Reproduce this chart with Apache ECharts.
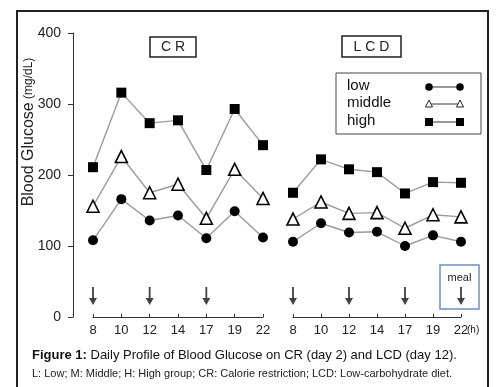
<!DOCTYPE html>
<html><head><meta charset="utf-8">
<script src="https://cdn.jsdelivr.net/npm/echarts@6/dist/echarts.min.js"></script>
<style>html,body{margin:0;padding:0;background:#fff}#c{width:499px;height:387px}</style>
</head><body><div id="c"></div>
<script>
const hours = ['8','10','12','14','17','19','22'];
const crLow = [108,166,136,143,111,149,112];
const crMiddle = [156,226,175,187,139,208,167];
const crHigh = [211,316,273,277,207,293,242];
const lcdLow = [106,132,119,120,100,115,106];
const lcdMiddle = [138,162,146,147,125,144,141];
const lcdHigh = [175,222,208,204,174,190,189];
const crMeals = ['8','12','17'];
const lcdMeals = ['8','12','17','22'];
const arrowLevel = 29.5;
const yTicks = [0,100,200,300,400];

const FN = 'Liberation Sans Narrow, Liberation Sans, Arial, sans-serif';
const FS = 'Liberation Sans, Arial, sans-serif';
const arrowPath = 'path://M3.1,0 L4.9,0 L4.9,11 L8,11 L4,18 L0,11 L3.1,11 Z';

function lineSeries(name, data, axisIdx, symbol, size, fill) {
  return {
    type: 'line', name, data, xAxisIndex: axisIdx, yAxisIndex: axisIdx,
    symbol, symbolSize: size, showAllSymbol: true,
    lineStyle: { color: '#9a9a9a', width: 1.4 },
    itemStyle: { color: fill, borderColor: '#000', borderWidth: symbol === 'triangle' ? 1.6 : 0 },
    z: 3, animation: false
  };
}
function arrows(cats, axisIdx) {
  return {
    type: 'scatter', xAxisIndex: axisIdx, yAxisIndex: axisIdx,
    data: cats.map(c => [c, arrowLevel]),
    symbol: arrowPath, symbolSize: [8, 18],
    itemStyle: { color: '#111' }, animation: false
  };
}
const xAxisBase = {
  type: 'category', data: hours, boundaryGap: false,
  axisLine: { lineStyle: { color: '#333', width: 1 } },
  axisTick: { inside: true, length: 3, lineStyle: { color: '#333' } },
  axisLabel: { fontFamily: FN, fontSize: 13, color: '#222', margin: 7 },
  splitLine: { show: false }
};
const yAxisBase = {
  type: 'value', min: 0, max: 400, interval: 100,
  splitLine: { show: false }
};

const chart = echarts.init(document.getElementById('c'), null, { renderer: 'canvas' });
chart.setOption({
  backgroundColor: '#fff',
  animation: false,
  grid: [
    { left: 93, right: 236, top: 33, bottom: 70 },
    { left: 293, right: 38, top: 33, bottom: 70 }
  ],
  xAxis: [ Object.assign({ gridIndex: 0 }, xAxisBase), Object.assign({ gridIndex: 1 }, xAxisBase) ],
  yAxis: [
    Object.assign({ gridIndex: 0, offset: 20,
      axisLine: { show: true, lineStyle: { color: '#333', width: 1 } },
      axisTick: { show: true, length: 5, lineStyle: { color: '#333' } },
      axisLabel: { fontFamily: FN, fontSize: 14, color: '#222', margin: 12,
        formatter: v => yTicks.includes(v) ? String(v) : '' }
    }, yAxisBase),
    Object.assign({ gridIndex: 1, show: false }, yAxisBase)
  ],
  series: [
    lineSeries('low', crLow, 0, 'circle', 10, '#000'),
    lineSeries('middle', crMiddle, 0, 'triangle', 12, '#fff'),
    lineSeries('high', crHigh, 0, 'rect', 10, '#000'),
    lineSeries('low', lcdLow, 1, 'circle', 10, '#000'),
    lineSeries('middle', lcdMiddle, 1, 'triangle', 12, '#fff'),
    lineSeries('high', lcdHigh, 1, 'rect', 10, '#000'),
    arrows(crMeals, 0),
    arrows(lcdMeals, 1)
  ],
  graphic: [
    { type: 'rect', shape: { x: 17, y: 11, width: 471, height: 400 }, style: { fill: 'none', stroke: '#222', lineWidth: 2 }, silent: true },
    { type: 'text', x: 29, y: 132, rotation: Math.PI / 2, style: {
        text: '{a|Blood Glucose} {b|(mg/dL)}', align: 'center', verticalAlign: 'middle',
        rich: { a: { fontFamily: FS, fontSize: 16, fill: '#222' }, b: { fontFamily: FS, fontSize: 12, fill: '#222' } } } },
    { type: 'rect', shape: { x: 150, y: 37, width: 46, height: 20 }, style: { fill: '#fff', stroke: '#222', lineWidth: 1.5 } },
    { type: 'text', x: 173, y: 47, style: { text: 'C R', fontFamily: FS, fontSize: 14, fill: '#222', align: 'center', verticalAlign: 'middle' } },
    { type: 'rect', shape: { x: 342, y: 36, width: 59, height: 21 }, style: { fill: '#fff', stroke: '#222', lineWidth: 1.5 } },
    { type: 'text', x: 371.5, y: 47, style: { text: 'L C D', fontFamily: FS, fontSize: 14, fill: '#222', align: 'center', verticalAlign: 'middle' } },
    { type: 'rect', shape: { x: 336, y: 73, width: 145, height: 61 }, style: { fill: '#fff', stroke: '#444', lineWidth: 1 } },
    { type: 'text', x: 347, y: 86, style: { text: 'low', fontFamily: FS, fontSize: 15, fill: '#111', verticalAlign: 'middle' } },
    { type: 'text', x: 347, y: 103, style: { text: 'middle', fontFamily: FS, fontSize: 15, fill: '#111', verticalAlign: 'middle' } },
    { type: 'text', x: 347, y: 121, style: { text: 'high', fontFamily: FS, fontSize: 15, fill: '#111', verticalAlign: 'middle' } },
    { type: 'line', shape: { x1: 429, y1: 87, x2: 460, y2: 87 }, style: { stroke: '#333', lineWidth: 1 } },
    { type: 'circle', shape: { cx: 429, cy: 87, r: 3.8 }, style: { fill: '#000' } },
    { type: 'circle', shape: { cx: 460, cy: 87, r: 3.8 }, style: { fill: '#000' } },
    { type: 'line', shape: { x1: 429, y1: 104, x2: 460, y2: 104 }, style: { stroke: '#333', lineWidth: 1 } },
    { type: 'polygon', shape: { points: [[429, 100], [432.5, 107], [425.5, 107]] }, style: { fill: '#fff', stroke: '#222', lineWidth: 1 } },
    { type: 'polygon', shape: { points: [[460, 100], [463.5, 107], [456.5, 107]] }, style: { fill: '#fff', stroke: '#222', lineWidth: 1 } },
    { type: 'line', shape: { x1: 429, y1: 122, x2: 460, y2: 122 }, style: { stroke: '#333', lineWidth: 1 } },
    { type: 'rect', shape: { x: 425, y: 118, width: 8, height: 8 }, style: { fill: '#000' } },
    { type: 'rect', shape: { x: 456, y: 118, width: 8, height: 8 }, style: { fill: '#000' } },
    { type: 'rect', shape: { x: 440, y: 265, width: 39, height: 44 }, style: { fill: 'none', stroke: '#6f8fbd', lineWidth: 1.5 } },
    { type: 'text', x: 459.5, y: 278, style: { text: 'meal', fontFamily: FS, fontSize: 11, fill: '#222', align: 'center', verticalAlign: 'middle' } },
    { type: 'text', x: 467, y: 330, style: { text: '(h)', fontFamily: FN, fontSize: 10, fill: '#222', verticalAlign: 'middle' } },
    { type: 'text', x: 32, y: 355, style: {
        text: '{b|Figure 1:} Daily Profile of Blood Glucose on CR (day 2) and LCD (day 12).',
        fontFamily: FS, fontSize: 13, fill: '#111', verticalAlign: 'middle',
        rich: { b: { fontFamily: FS, fontSize: 13, fontWeight: 'bold', fill: '#111' } } } },
    { type: 'text', x: 32, y: 374, style: {
        text: 'L: Low; M: Middle; H: High group; CR: Calorie restriction; LCD: Low-carbohydrate diet.',
        fontFamily: FS, fontSize: 11, fill: '#222', verticalAlign: 'middle' } }
  ]
});
</script></body></html>
